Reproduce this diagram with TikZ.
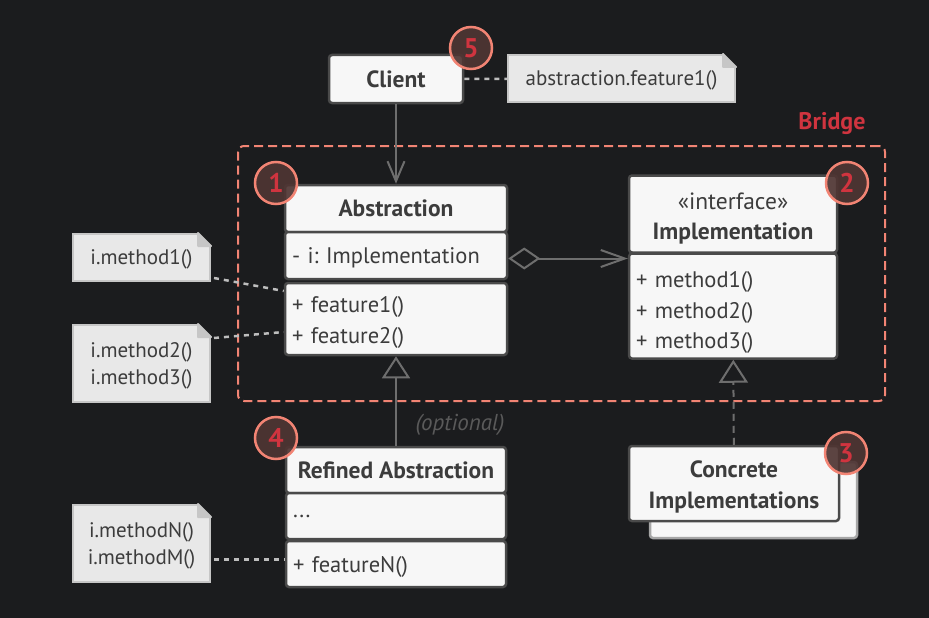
\documentclass[tikz,border=0pt]{standalone}
\usepackage{fontspec}
\setmainfont{PT Sans}
\usetikzlibrary{arrows.meta}
\frenchspacing
\definecolor{bg}{HTML}{1B1C1E}
\definecolor{paper}{HTML}{F7F7F7}
\definecolor{edge}{HTML}{4A4A4A}
\definecolor{ink}{HTML}{3C3C3C}
\definecolor{wire}{HTML}{6E6E6E}
\definecolor{notefill}{HTML}{E8E8E8}
\definecolor{noteline}{HTML}{C6C6C6}
\definecolor{dotline}{HTML}{BDBDBD}
\definecolor{salmon}{HTML}{F28474}
\definecolor{bridgered}{HTML}{D0343F}
\definecolor{hint}{HTML}{5A5A5A}
% folded corner of a note
\newcommand\dogear[1]{
  \fill[bg] ([xshift=-13pt]#1.north east) -- ([xshift=-13pt,yshift=2pt]#1.north east)
    -- ([xshift=2pt,yshift=2pt]#1.north east) -- ([xshift=2pt,yshift=-13pt]#1.north east)
    -- ([yshift=-13pt]#1.north east) -- cycle;
  \filldraw[fill=noteline, draw=noteline, line width=2pt, line join=round]
    ([xshift=-13pt]#1.north east) -- ([yshift=-13pt]#1.north east)
    -- ([xshift=-13pt,yshift=-13pt]#1.north east) -- cycle;
}
% taller first line, pushes a block of lines down
\newcommand\topgap[1]{\rule{0pt}{#1}}
\begin{document}
\begin{tikzpicture}[x = 1pt, y = -1pt,
    every node/.style = { font = \fontsize{22.5}{30.5}\selectfont, text = ink },
    box/.style = { draw = edge, line width = 2.5pt, fill = paper, rounded corners = 3pt, inner xsep = 7pt, inner ysep = 0pt },
    title/.style = { box, align = center, font = \bfseries\fontsize{23.5}{30.5}\selectfont },
    sect/.style = { box, align = left },
    oneline/.style = { sect, text depth = 0pt },
    note/.style = { draw = noteline, line width = 2pt, fill = notefill, inner sep = 0pt, align = center, text depth = 0pt, font = \fontsize{21}{26.5}\selectfont },
    badge/.style = { circle, draw = salmon, line width = 2.5pt, fill = salmon!24!bg, fill opacity = 0.92, text opacity = 1, minimum size = 42pt, inner sep = 0pt, text = bridgered, font = \bfseries\fontsize{27}{27}\selectfont },
    wirearrow/.style = { draw = wire, line width = 2pt },
    dots/.style = { draw = dotline, line width = 2.5pt, dash pattern = on 5pt off 5pt }]
  \fill[bg] (0,0) rectangle (929,618);
  \useasboundingbox (0,0) rectangle (929,618);

  % bridge frame
  \node[draw = salmon, line width = 2pt, dash pattern = on 9pt off 5pt, rounded corners = 6pt, minimum width = 647pt, minimum height = 255pt] (bridge) at (561.5,273.5) {};
  \node[text = bridgered, font = \bfseries\fontsize{24}{24}\selectfont] (bridgelabel) at (832,124) {Bridge};

  % client
  \node[title, minimum width = 134pt, minimum height = 48pt] (client) at (396,79) {Client};
  \node[note, minimum width = 227pt, minimum height = 47pt] (cnote) at (621.5,78.5) {abstraction.feature1()};
  \dogear{cnote}

  % abstraction
  \node[title, minimum width = 222pt, minimum height = 47pt] (abshead) at (396,208.5) {Abstraction};
  \node[oneline, text width = 208pt, minimum height = 47pt] (absfield) at (396,255.5) {- i: Implementation};
  \node[sect, text width = 208pt, minimum height = 72pt] (absmeth) at (396,319) {\topgap{23pt}+ feature1()\\+ feature2()};

  % implementation
  \node[title, minimum width = 208pt, minimum height = 77pt] (implhead) at (733,214) {\mdseries\topgap{26pt}«interface»\\Implementation};
  \node[sect, text width = 194pt, minimum height = 105pt] (implmeth) at (733,306) {\topgap{29pt}+ method1()\\+ method2()\\+ method3()};

  % refined abstraction
  \node[title, minimum width = 220pt, minimum height = 46pt] (refhead) at (396,470) {Refined Abstraction};
  \node[oneline, text width = 206pt, minimum height = 46pt] (reffield) at (396,516) {...};
  \node[oneline, text width = 206pt, minimum height = 46pt] (refmeth) at (396,564) {+ featureN()};

  % concrete implementations
  \node[box, draw = black!35, minimum width = 207pt, minimum height = 76pt] (concback) at (753.5,500) {};
  \node[title, minimum width = 210pt, minimum height = 75pt] (conc) at (734,483.5) {\topgap{24pt}Concrete\\Implementations};

  % notes
  \node[note, minimum width = 137pt, minimum height = 47pt] (note1) at (141.5,257.5) {i.method1()};
  \dogear{note1}
  \node[note, minimum width = 137pt, minimum height = 77pt] (note2) at (141.5,363.5) {i.method2()\\i.method3()};
  \dogear{note2}
  \node[note, minimum width = 137pt, minimum height = 77pt] (note3) at (141.5,543.5) {i.methodN()\\i.methodM()};
  \dogear{note3}

  % connectors
  \draw[wirearrow, -{Straight Barb[length = 20pt, width = 17pt]}] (client) -- (abshead);
  \draw[wirearrow, {Diamond[fill = bg, length = 32pt, width = 22pt]}-{Straight Barb[length = 24pt, width = 17pt]}] ([yshift=-3pt]absfield.east) -- ([yshift=-3pt]absfield.east -| implmeth.west);
  \draw[wirearrow, -{Triangle[fill = bg, length = 22pt, width = 28pt]}] (refhead) -- (absmeth);
  \draw[wirearrow, dash pattern = on 7pt off 5pt, -{Triangle[fill = bg, length = 23pt, width = 29pt]}] (conc) -- (implmeth);
  \node[text = hint, font = \itshape\fontsize{23}{23}\selectfont, anchor = east] (optional) at (508,425) {(optional)};

  \draw[dots] (client) -- (cnote);
  \draw[dots] ([xshift=3pt,yshift=4pt]note1.south east) -- ([yshift=28pt]absmeth.west);
  \draw[dots] ([xshift=3pt,yshift=-14pt]note2.north east) -- ([yshift=-13pt]absmeth.west);
  \draw[dots] ([xshift=3pt,yshift=-16pt]note3.east) -- ([yshift=-16pt]note3.east -| refmeth.west);

  % badges
  \node[badge] (b1) at (276,183) {1};
  \node[badge] (b2) at (847,183) {2};
  \node[badge] (b3) at (846,453) {3};
  \node[badge] (b4) at (276,438) {4};
  \node[badge] (b5) at (471,48) {5};
\end{tikzpicture}
\end{document}
